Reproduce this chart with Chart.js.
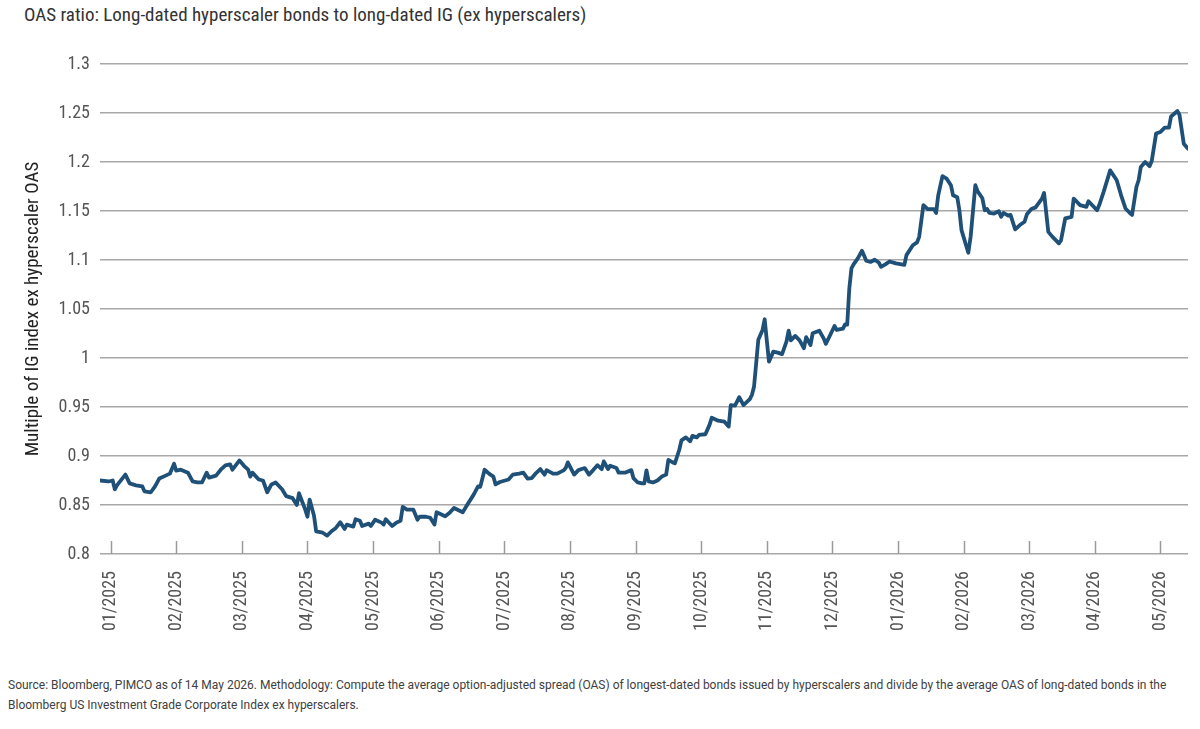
<!DOCTYPE html>
<html>
<head>
<meta charset="utf-8">
<script src="https://cdn.jsdelivr.net/npm/chart.js@4.4.1/dist/chart.umd.min.js"></script>
<style>
  html, body { margin:0; padding:0; background:#fff; }
  body { width:1200px; height:729px; position:relative; overflow:hidden; font-family: Roboto, "Liberation Sans", sans-serif; }
  #title { position:absolute; left:24px; top:3px; font-size:19px; color:#333; white-space:nowrap; font-family:"Roboto Condensed", Roboto, sans-serif; }
  #wrap { position:absolute; left:0; top:0; width:1200px; height:660px; }
  #foot { position:absolute; left:8px; top:675px; width:1190px; font-size:12px; line-height:20px; color:#404040; white-space:nowrap; }
</style>
</head>
<body>
<div id="title">OAS ratio: Long-dated hyperscaler bonds to long-dated IG (ex hyperscalers)</div>
<div id="wrap"><canvas id="c"></canvas></div>
<div id="foot">Source: Bloomberg, PIMCO as of 14 May 2026. Methodology: Compute the average option-adjusted spread (OAS) of longest-dated bonds issued by hyperscalers and divide by the average OAS of long-dated bonds in the<br>Bloomberg US Investment Grade Corporate Index ex hyperscalers.</div>
<script>
// ---------------- DATA ----------------
const monthLabels = ["01/2025","02/2025","03/2025","04/2025","05/2025","06/2025","07/2025","08/2025","09/2025","10/2025","11/2025","12/2025","01/2026","02/2026","03/2026","04/2026","05/2026"];

const dates = [
"2024-12-27","2024-12-31","2025-01-02","2025-01-03","2025-01-04","2025-01-08","2025-01-10","2025-01-13","2025-01-16","2025-01-17",
"2025-01-20","2025-01-22","2025-01-24","2025-01-27","2025-01-29","2025-01-31","2025-02-01","2025-02-03","2025-02-06","2025-02-08",
"2025-02-10","2025-02-12","2025-02-14","2025-02-15","2025-02-18","2025-02-20","2025-02-22","2025-02-24","2025-02-25","2025-02-28",
"2025-03-02","2025-03-04","2025-03-05","2025-03-06","2025-03-09","2025-03-11","2025-03-13","2025-03-15","2025-03-17","2025-03-20",
"2025-03-22","2025-03-25","2025-03-27","2025-03-28","2025-03-31","2025-04-01","2025-04-02","2025-04-04","2025-04-05","2025-04-08",
"2025-04-10","2025-04-12","2025-04-14","2025-04-16","2025-04-18","2025-04-19","2025-04-22","2025-04-23","2025-04-25","2025-04-26",
"2025-04-29","2025-04-30","2025-05-02","2025-05-05","2025-05-06","2025-05-07","2025-05-10","2025-05-12","2025-05-14","2025-05-15",
"2025-05-17","2025-05-20","2025-05-22","2025-05-23","2025-05-26","2025-05-28","2025-05-30","2025-05-31","2025-06-04","2025-06-06",
"2025-06-08","2025-06-12","2025-06-14","2025-06-17","2025-06-19","2025-06-20","2025-06-22","2025-06-24","2025-06-26","2025-06-27",
"2025-06-29","2025-07-03","2025-07-05","2025-07-08","2025-07-10","2025-07-12","2025-07-14","2025-07-16","2025-07-18","2025-07-20",
"2025-07-21","2025-07-24","2025-07-26","2025-07-29","2025-07-30","2025-07-31","2025-08-03","2025-08-05","2025-08-08","2025-08-10",
"2025-08-12","2025-08-14","2025-08-16","2025-08-17","2025-08-19","2025-08-20","2025-08-23","2025-08-24","2025-08-27","2025-08-30",
"2025-08-31","2025-09-02","2025-09-04","2025-09-05","2025-09-06","2025-09-07","2025-09-09","2025-09-11","2025-09-13","2025-09-15",
"2025-09-16","2025-09-18","2025-09-19","2025-09-21","2025-09-22","2025-09-24","2025-09-26","2025-09-27","2025-09-29","2025-09-30",
"2025-10-03","2025-10-05","2025-10-06","2025-10-08","2025-10-09","2025-10-12","2025-10-14","2025-10-15","2025-10-17","2025-10-19",
"2025-10-21","2025-10-24","2025-10-25","2025-10-26","2025-10-27","2025-10-28","2025-10-30","2025-10-31","2025-11-02","2025-11-04",
"2025-11-06","2025-11-08","2025-11-10","2025-11-11","2025-11-12","2025-11-14","2025-11-16","2025-11-18","2025-11-19","2025-11-21",
"2025-11-22","2025-11-25","2025-11-27","2025-11-28","2025-11-30","2025-12-02","2025-12-03","2025-12-06","2025-12-07","2025-12-08",
"2025-12-09","2025-12-10","2025-12-11","2025-12-13","2025-12-15","2025-12-17","2025-12-19","2025-12-21","2025-12-23","2025-12-24",
"2025-12-26","2025-12-28","2025-12-31","2026-01-04","2026-01-05","2026-01-08","2026-01-10","2026-01-11","2026-01-13","2026-01-15",
"2026-01-18","2026-01-19","2026-01-20","2026-01-22","2026-01-24","2026-01-26","2026-01-27","2026-01-29","2026-01-30","2026-01-31",
"2026-02-03","2026-02-04","2026-02-06","2026-02-07","2026-02-09","2026-02-10","2026-02-11","2026-02-12","2026-02-14","2026-02-16",
"2026-02-17","2026-02-18","2026-02-20","2026-02-21","2026-02-23","2026-02-25","2026-02-27","2026-02-28","2026-03-02","2026-03-04",
"2026-03-07","2026-03-08","2026-03-10","2026-03-12","2026-03-15","2026-03-16","2026-03-18","2026-03-21","2026-03-22","2026-03-25",
"2026-03-28","2026-03-29","2026-04-02","2026-04-03","2026-04-05","2026-04-08","2026-04-11","2026-04-13","2026-04-15","2026-04-17",
"2026-04-18","2026-04-20","2026-04-21","2026-04-22","2026-04-24","2026-04-26","2026-04-27","2026-04-29","2026-05-01","2026-05-03",
"2026-05-05","2026-05-06","2026-05-09","2026-05-10","2026-05-12","2026-05-14"
];

const oasRatio = [
0.875,0.874,0.875,0.866,0.870,0.881,0.872,0.870,0.869,0.864,
0.863,0.869,0.877,0.880,0.882,0.892,0.885,0.886,0.883,0.874,
0.873,0.873,0.883,0.878,0.880,0.886,0.8905,0.8915,0.886,0.8955,
0.890,0.886,0.879,0.883,0.876,0.875,0.863,0.871,0.873,0.866,
0.859,0.857,0.850,0.862,0.845,0.838,0.8555,0.839,0.823,0.8217,
0.8188,0.8232,0.8266,0.8324,0.8256,0.830,0.828,0.8355,0.834,0.8286,
0.831,0.8286,0.835,0.832,0.830,0.8355,0.8286,0.832,0.834,0.848,
0.8453,0.8453,0.835,0.838,0.838,0.837,0.830,0.8426,0.8385,0.842,
0.847,0.8426,0.850,0.8606,0.869,0.8685,0.886,0.882,0.879,0.871,
0.8735,0.876,0.881,0.882,0.883,0.877,0.8775,0.8826,0.8866,0.881,
0.8856,0.882,0.882,0.8853,0.8877,0.8935,0.881,0.8856,0.8877,0.881,
0.8856,0.8906,0.8866,0.8945,0.8866,0.890,0.8877,0.883,0.883,0.8856,
0.8775,0.873,0.872,0.872,0.8853,0.874,0.873,0.875,0.879,0.881,
0.896,0.8935,0.8926,0.9064,0.9159,0.919,0.915,0.9205,0.919,0.9215,
0.9222,0.932,0.939,0.937,0.936,0.935,0.930,0.952,0.9515,0.960,
0.952,0.958,0.9625,0.971,0.9947,1.0185,1.0286,1.0395,0.9963,1.0065,
1.0055,1.004,1.0167,1.0279,1.018,1.0225,1.018,1.010,1.0213,1.0133,
1.0253,1.0279,1.020,1.0144,1.0235,1.0327,1.0286,1.030,1.0344,1.034,
1.071,1.0914,1.0955,1.1016,1.1094,1.0992,1.098,1.1003,1.0971,1.093,
1.0955,1.0985,1.0965,1.095,1.105,1.115,1.118,1.1236,1.156,1.152,
1.152,1.148,1.166,1.1855,1.183,1.1763,1.166,1.164,1.1508,1.1305,
1.1074,1.124,1.1763,1.170,1.163,1.1508,1.152,1.148,1.1474,1.1497,
1.1442,1.148,1.1453,1.146,1.1312,1.1357,1.139,1.1467,1.152,1.1537,
1.1627,1.1684,1.1287,1.1236,1.117,1.120,1.1424,1.144,1.1627,1.156,
1.1542,1.160,1.1508,1.156,1.1695,1.1915,1.1814,1.166,1.1526,1.148,
1.146,1.1745,1.1814,1.1949,1.200,1.1957,1.201,1.229,1.2307,1.235,
1.235,1.2465,1.252,1.248,1.2187,1.2136
];

const yMin = 0.8, yMax = 1.3, yStep = 0.05;
const seriesLabel = "OAS ratio";
const yTitle = "Multiple of IG index ex hyperscaler OAS";

// ---------------- HELPERS ----------------
function monthPos(s){
  const [y,m,d] = s.split('-').map(Number);
  const dim = new Date(y, m, 0).getDate();
  return (y - 2025) * 12 + (m - 1) + (d - 1) / dim;
}
const FAM = '"Roboto Condensed", Roboto, sans-serif';

const points = dates.map((d, i) => ({ x: monthPos(d), y: oasRatio[i] }));
const xMin = points[0].x, xMax = points[points.length - 1].x;

const innerTicks = {
  id: 'innerTicks',
  afterDatasetsDraw(chart){
    const xs = chart.scales.x, ctx = chart.ctx, b = chart.chartArea.bottom;
    ctx.save();
    ctx.strokeStyle = '#9a9a9a'; ctx.lineWidth = 1.5;
    xs.ticks.forEach(t => {
      const px = Math.round(xs.getPixelForValue(t.value)) + 0.5;
      ctx.beginPath(); ctx.moveTo(px, b); ctx.lineTo(px, b - 13); ctx.stroke();
    });
    ctx.restore();
  }
};

new Chart(document.getElementById('c'), {
  type: 'line',
  data: { datasets: [{
    label: seriesLabel, data: points,
    borderColor: '#1f5078', borderWidth: 3.8, pointRadius: 0, tension: 0,
    borderJoinStyle: 'round', borderCapStyle: 'round', fill: false
  }]},
  options: {
    responsive: true, maintainAspectRatio: false, animation: false,
    layout: { padding: { top: 64, right: 12, left: 0, bottom: 0 } },
    plugins: { legend: { display: false }, tooltip: { enabled: false } },
    scales: {
      x: {
        type: 'linear', min: xMin, max: xMax, bounds: 'data',
        grid: { display: false, drawTicks: false },
        border: { display: false },
        afterBuildTicks(scale){
          const t = [];
          for (let i = Math.ceil(scale.min); i <= Math.floor(scale.max); i++) if (monthLabels[i]) t.push({ value: i });
          scale.ticks = t;
        },
        afterFit(scale){ scale.height = 106; },
        ticks: {
          autoSkip: false, maxRotation: 90, minRotation: 90, padding: 17,
          color: '#555', font: { family: FAM, size: 18 },
          callback: v => monthLabels[v] ?? ''
        }
      },
      y: {
        min: yMin, max: yMax,
        grid: { color: '#a8a8a8', lineWidth: 1.5, drawTicks: false },
        border: { display: false },
        afterFit(scale){ scale.width = 100; },
        ticks: {
          stepSize: yStep, padding: 10, color: '#555', font: { family: FAM, size: 18 },
          callback: v => String(parseFloat(v.toFixed(2)))
        },
        title: { display: true, text: yTitle, color: '#222', font: { family: FAM, size: 19 }, padding: { top: 22, bottom: 0 } }
      }
    }
  },
  plugins: [innerTicks]
});
</script>
</body>
</html>
